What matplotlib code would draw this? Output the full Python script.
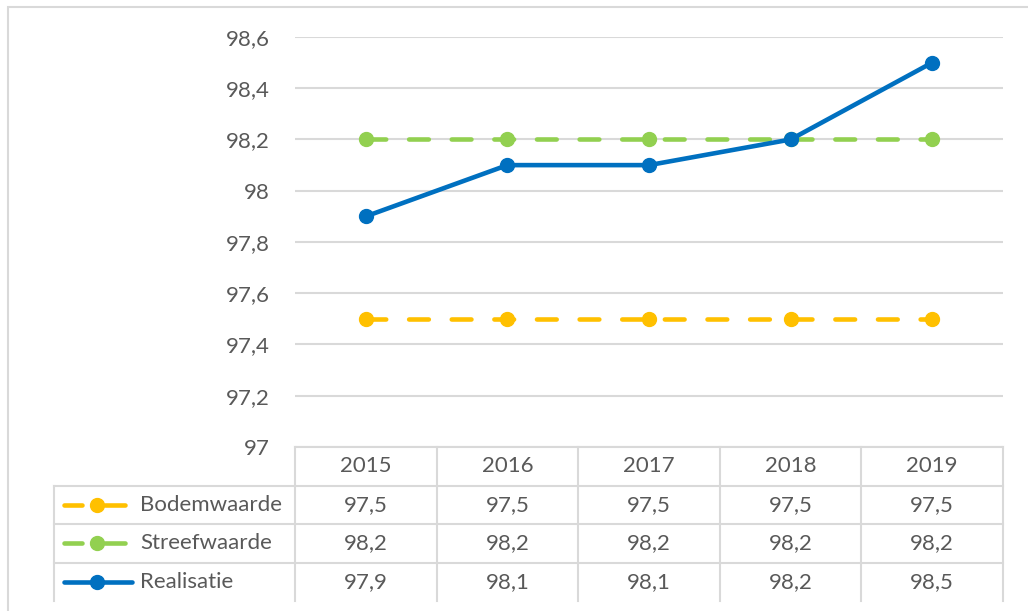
import matplotlib.pyplot as plt
import matplotlib.transforms as mtransforms
from matplotlib.lines import Line2D
from matplotlib.patches import Rectangle

# data
jaren = ['2015', '2016', '2017', '2018', '2019']
bodemwaarde = [97.5, 97.5, 97.5, 97.5, 97.5]
streefwaarde = [98.2, 98.2, 98.2, 98.2, 98.2]
realisatie = [97.9, 98.1, 98.1, 98.2, 98.5]
reeksen = ['Bodemwaarde', 'Streefwaarde', 'Realisatie']
kleuren = ['#FFC000', '#92D050', '#0070C0']
stijlen = ['dashed', 'dashed', 'solid']
yticks = [97, 97.2, 97.4, 97.6, 97.8, 98, 98.2, 98.4, 98.6]

tekst = '#595959'
rand = '#d9d9d9'
fs = 16
plt.rcParams['font.family'] = ['Lato', 'DejaVu Sans']

W, H = 1028, 611
fig = plt.figure(figsize=(W / 100, H / 100), dpi=100)

# rand om de grafiek
fig.add_artist(Rectangle((8 / W, -0.1), 1.1, (H - 7) / H + 0.1, transform=fig.transFigure,
                         fill=False, edgecolor=rand, linewidth=1.5))

L, R, T, B = 295, 1003, 37, 447
ax = fig.add_axes([L / W, 1 - B / H, (R - L) / W, (B - T) / H])

x = range(len(jaren))
waarden = [bodemwaarde, streefwaarde, realisatie]
for naam, vals, kl, st in zip(reeksen, waarden, kleuren, stijlen):
    ln, = ax.plot(x, vals, color=kl, linewidth=3.3, marker='o', markersize=10,
                  solid_capstyle='round', dash_capstyle='round', zorder=3)
    if st == 'dashed':
        ln.set_dashes((4.3, 5.0))

ax.set_xlim(-0.5, len(jaren) - 0.5)
ax.set_ylim(97, 98.6)
ax.set_yticks(yticks)
ax.set_yticklabels([f'{v:g}'.replace('.', ',') for v in yticks])
ax.tick_params(axis='y', length=0, pad=18, labelsize=fs, labelcolor=tekst)
ax.set_xticks([])
ax.grid(axis='y', color=rand, linewidth=1.5)
ax.set_axisbelow(True)
for s in ax.spines.values():
    s.set_visible(False)

# datatabel onder de grafiek
rij = 38.5 / (B - T)
trans = mtransforms.blended_transform_factory(ax.transData, ax.transAxes)
lijn = dict(color=rand, linewidth=1.5, clip_on=False, transform=ax.transAxes)
legx0 = (54 - L) / (R - L)
n = len(jaren)
# horizontale lijnen
ax.add_line(Line2D([0, 1], [0, 0], **lijn))
for i in range(1, 4):
    ax.add_line(Line2D([legx0, 1], [-i * rij, -i * rij], **lijn))
# verticale lijnen
for k in range(n + 1):
    xa = k / n
    ax.add_line(Line2D([xa, xa], [0, -4 * rij], **lijn))
ax.add_line(Line2D([legx0, legx0], [-rij, -4 * rij], **lijn))

for j, jaar in enumerate(jaren):
    ax.text(j, -0.5 * rij, jaar, transform=trans, ha='center', va='center',
            fontsize=fs, color=tekst)
for i, (naam, vals, kl, st) in enumerate(zip(reeksen, waarden, kleuren, stijlen)):
    yc = -(i + 1.5) * rij
    for j, v in enumerate(vals):
        ax.text(j, yc, f'{v:g}'.replace('.', ','), transform=trans, ha='center', va='center',
                fontsize=fs, color=tekst)
    # legendasymbool
    px = lambda p: (p - L) / (R - L)
    if st == 'dashed':
        for a, b in [(64, 82), (105, 125)]:
            ax.add_line(Line2D([px(a), px(b)], [yc, yc], color=kl, linewidth=3.3,
                               solid_capstyle='round', clip_on=False, transform=ax.transAxes))
    else:
        ax.add_line(Line2D([px(64), px(132)], [yc, yc], color=kl, linewidth=3.3,
                           solid_capstyle='round', clip_on=False, transform=ax.transAxes))
    ax.add_line(Line2D([px(97)], [yc], color=kl, marker='o', markersize=10,
                       clip_on=False, transform=ax.transAxes))
    ax.text(px(140), yc, naam, transform=ax.transAxes, ha='left', va='center',
            fontsize=fs, color=tekst)

fig.savefig('out.png', dpi=100)
